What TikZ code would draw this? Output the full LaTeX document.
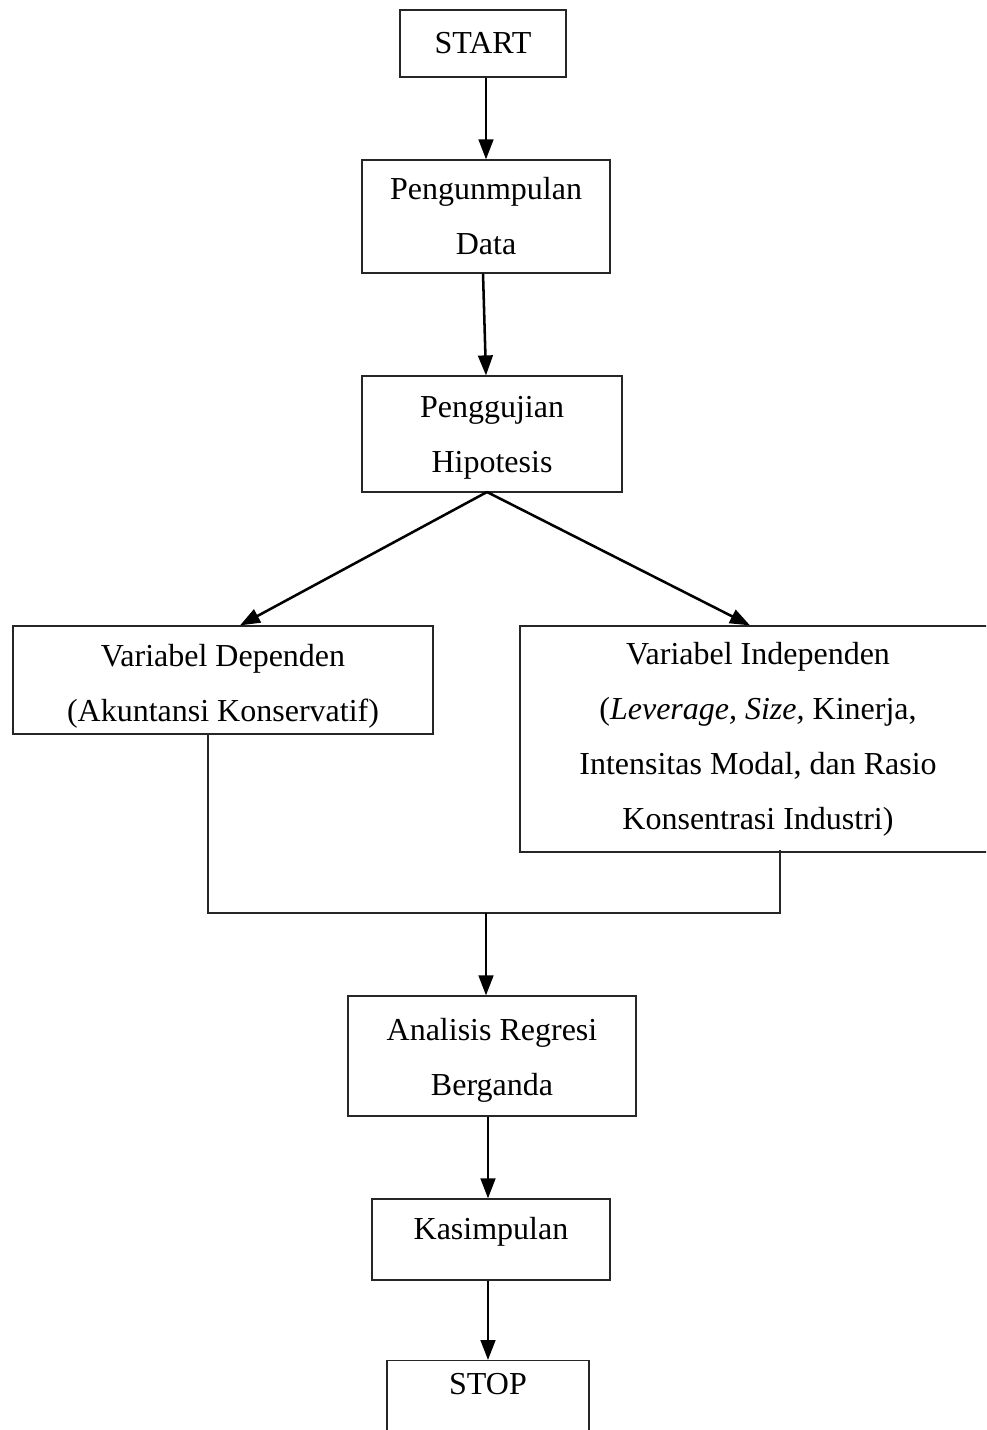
\documentclass[tikz,border=0pt]{standalone}
\usepackage{fontspec}
\setmainfont{Liberation Serif}
\usetikzlibrary{arrows.meta}
\begin{document}
\begin{tikzpicture}[x=0.75pt,y=-0.75pt,
  box/.style={draw=black!85, line width=0.9pt, inner sep=0pt, align=center,
    font=\fontsize{24}{41.25}\selectfont},
  arr/.style={line width=1.9pt, -{Triangle[length=15pt,width=11pt]}},
  joinline/.style={draw=black!85, line width=0.8pt}]
\clip (0,0) rectangle (986,1430);
\fill[white] (0,0) rectangle (986,1430);
\node[box, minimum width=124.5pt, minimum height=50.25pt] (start) at (483,43.5) {START};
\node[box, minimum width=186pt, minimum height=84.75pt] (peng) at (486,216.5) {Pengunmpulan\\Data};
\node[box, minimum width=195pt, minimum height=87pt, text height=63pt] (hip) at (492,434) {Penggujian\\Hipotesis};
\node[box, minimum width=315pt, minimum height=81pt, text height=67pt] (dep) at (223,680) {Variabel Dependen\\(Akuntansi Konservatif)};
\node[box, minimum width=357pt, minimum height=169.5pt] (ind) at (758,739) {Variabel Independen\\(\textit{Leverage, Size,} Kinerja,\\Intensitas Modal, dan Rasio\\Konsentrasi Industri)};
\node[box, minimum width=216pt, minimum height=90pt, text height=65pt] (ana) at (492,1056) {Analisis Regresi\\Berganda};
\node[box, minimum width=178.5pt, minimum height=60.75pt, text depth=17pt] (kas) at (491,1239.5) {Kasimpulan};
\node[box, minimum width=151.5pt, text height=25.5pt, text depth=60pt, anchor=north] (stop) at (488,1360) {STOP};
\coordinate (hs) at (487,492);
\coordinate (jl) at (208,913);
\coordinate (jm) at (486,913);
\coordinate (jr) at (780,913);
\draw[arr] (start.south -| peng.north) -- (peng.north);
\draw[arr] ([xshift=-2.25pt]peng.south) -- ([xshift=-4.5pt]hip.north);
\draw[arr] (hs) -- ([xshift=12.75pt]dep.north);
\draw[arr] (hs) -- ([xshift=-6pt]ind.north);
\draw[joinline] (dep.south -| jl) -- (jl) -- (jr) -- ([yshift=2.25pt]ind.south -| jr);
\draw[arr] (jm) -- (jm |- ana.north);
\draw[arr] ([xshift=-3pt]ana.south) -- ([xshift=-3pt]ana.south |- kas.north);
\draw[arr] ([xshift=-3pt]ana.south |- kas.south) -- (stop.north);
\end{tikzpicture}
\end{document}
